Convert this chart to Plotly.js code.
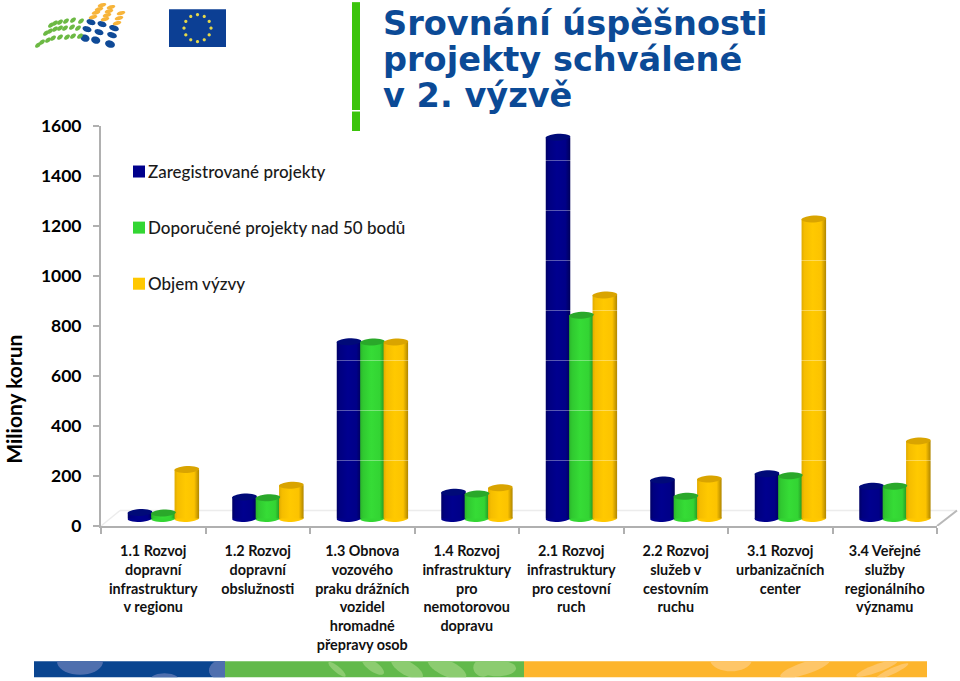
<!DOCTYPE html>
<html><head><meta charset="utf-8">
<script src="https://cdn.plot.ly/plotly-3.0.1.min.js"></script>
<style>html,body{margin:0;padding:0;background:#fff}#c{width:960px;height:681px}</style>
</head><body><div id="c"></div>
<script>
const categories = ["1.1 Rozvoj<br>dopravní<br>infrastruktury<br>v regionu","1.2 Rozvoj<br>dopravní<br>obslužnosti","1.3 Obnova<br>vozového<br>praku drážních<br>vozidel<br>hromadné<br>přepravy osob","1.4 Rozvoj<br>infrastruktury<br>pro<br>nemotorovou<br>dopravu","2.1 Rozvoj<br>infrastruktury<br>pro cestovní<br>ruch","2.2 Rozvoj<br>služeb v<br>cestovním<br>ruchu","3.1 Rozvoj<br>urbanizačních<br>center","3.4 Veřejné<br>služby<br>regionálního<br>významu"];
const zaregistrovane = [24,86,707,105,1525,154,179,129];
const doporucene = [22,83,706,98,813,89,171,129];
const objem = [196,133,706,123,894,158,1198,310];
const seriesNames = ["Zaregistrované projekty","Doporučené projekty nad 50 bodů","Objem výzvy"];
const yTicks = [0,200,400,600,800,1000,1200,1400,1600];

const W=960,H=681,L=101,R=937,T=126,B=526.5;
const FLOOR=30, BACK=62;
const BW=0.2347, OFF=[-0.244,-0.02,0.204];
const COL=["#00008c","#33d633","#ffc800"], CAP=["#000a78","#2aa82a","#d9a400"];
const px=x=>(x-L)/(R-L), py=y=>(B-y)/(B-T);
const shapes=[];
function pRect(x0,y0,x1,y1,c){shapes.push({type:'rect',xref:'paper',yref:'paper',x0:px(x0),x1:px(x1),y0:py(y0),y1:py(y1),fillcolor:c,line:{width:0},layer:'above'});}
function pEll(cx,cy,rx,ry,rot,c,box){let d='';const r=rot*Math.PI/180;for(let i=0;i<36;i++){const a=i/36*2*Math.PI;let x=cx+rx*Math.cos(a)*Math.cos(r)-ry*Math.sin(a)*Math.sin(r);let y=cy+rx*Math.cos(a)*Math.sin(r)+ry*Math.sin(a)*Math.cos(r);if(box){x=Math.min(box[1],Math.max(box[0],x));y=Math.min(box[3],Math.max(box[2],y));}d+=(i?'L':'M')+px(x).toFixed(5)+','+py(y).toFixed(5);}shapes.push({type:'path',xref:'paper',yref:'paper',path:d+'Z',fillcolor:c,line:{width:0},layer:'above'});}

// plot decorations
shapes.push({type:'line',xref:'paper',yref:'y',x0:px(120),x1:px(957),y0:BACK,y1:BACK,line:{color:'#ececec',width:1.5},layer:'below'});
shapes.push({type:'line',xref:'paper',yref:'y',x0:px(101),x1:px(120),y0:0,y1:BACK,line:{color:'#ececec',width:1.5},layer:'below'});
shapes.push({type:'line',xref:'paper',yref:'y',x0:1,x1:px(957),y0:0,y1:BACK,line:{color:'#b8b8b8',width:2},layer:'below'});

// cylinder ends, computed from the values
const YU=(B-T)/1600, XU=(R-L)/8;
function cyl(cx,cyVal){
  const rx=BW/2*XU, ry=3.4, r=-3*Math.PI/180; let d='';
  for(let i=0;i<28;i++){const a=i/28*2*Math.PI;
    const dx=rx*Math.cos(a)*Math.cos(r)-ry*Math.sin(a)*Math.sin(r), dy=rx*Math.cos(a)*Math.sin(r)+ry*Math.sin(a)*Math.cos(r);
    d+=(i?'L':'M')+(cx+dx/XU).toFixed(4)+','+(cyVal-dy/YU).toFixed(2);}
  return d+'Z';
}
[zaregistrovane,doporucene,objem].forEach((s,k)=>s.forEach((v,i)=>{
  const cx=i+OFF[k]+BW/2;
  shapes.push({type:'path',xref:'x',yref:'y',path:cyl(cx,FLOOR),fillcolor:COL[k],line:{width:0},layer:'between'});
  shapes.push({type:'path',xref:'x',yref:'y',path:cyl(cx,FLOOR+v),fillcolor:CAP[k],line:{width:0},layer:'above'});
}));
// wall grid lines showing faintly through the columns
yTicks.slice(0,-1).forEach(t=>{ if(t>0) shapes.push({type:'line',xref:'paper',yref:'y',x0:0,x1:1,y0:BACK+t,y1:BACK+t,line:{color:'rgba(255,255,255,0.35)',width:1},layer:'above'});});

// page furniture
pRect(352,2,360,110,'#3cc40c');pRect(352,111.5,360,131,'#3cc40c');
pRect(34,662,225,678,'#0a4590');pRect(225,662,524,678,'#62b94b');pRect(524,662,927,678,'#fdb52d');
const bandBlue=[34,225,662,678],bandGreen=[225,524,662,678],bandGold=[524,927,662,678];
pEll(80,662,23,13.5,0,'#4f6fae',bandBlue);pEll(164.5,680,14,6,0,'#4f6fae',bandBlue);pEll(228,671,19,12,0,'#4f6fae',bandBlue);
[[337,670,11,3,40],[373,667,13,5,35],[407,669,18,7,30],[447,669,21,8,25],[482,669,9,8,35],[497,669,19,8,0]].forEach(e=>pEll(e[0],e[1],e[2],e[3],e[4],'#8ccc70',bandGreen));
[[731,660,21,12,0],[805,669,26,6,-18],[877,669,22,4,-20],[892,672,18,3,-25]].forEach(e=>pEll(e[0],e[1],e[2],e[3],e[4],'#fec668',bandGold));
pRect(169,9,226,47,'#0c3f94');
for(let i=0;i<12;i++){const a=i/12*2*Math.PI;pEll(197.5+13.5*Math.cos(a),28+13.5*Math.sin(a),1.6,1.6,0,'#e6d84a');}
[[85,38],[95.7,40],[110,44],[87,29],[99,32],[112,35],[91,22],[102,24],[114,28]].forEach((p,i)=>pEll(p[0],p[1],i%3==2?5:4.6,i<3?3.6:2.8,18,'#0f4a97'));
[[93,17],[96,12.5],[99,9],[102,5],[105,19],[107,15],[109,11],[111,7],[117,23],[119,18],[121,13]].forEach(p=>pEll(p[0],p[1],4.4,1.9,-15,'#f7b43a'));
[[80,36],[73,36],[67,37],[60,37],[53,38],[48,40],[42,42],[38,45],[78,28],[72,27],[65,28],[60,28],[55,29],[50,31],[46,33],[81,21],[73,20],[66,21],[60,22],[55,23],[51,25]].forEach(p=>pEll(p[0],p[1],3.4,2,-40,'#6cb944'));

const traces=[zaregistrovane,doporucene,objem].map((s,k)=>({type:'bar',name:seriesNames[k],legendgroup:'g'+k,x:categories,y:s,base:FLOOR,width:BW,offset:OFF[k],marker:{color:COL[k],line:{width:0}},hoverinfo:'x+y'}));
const font={family:'Lato, sans-serif',size:17.5,color:'#000',weight:700};
const layout={
  width:W,height:H,margin:{l:L,r:W-R,t:T,b:H-B,pad:0},paper_bgcolor:'#fff',plot_bgcolor:'rgba(0,0,0,0)',
  barmode:'overlay',showlegend:true,
  legend:{x:px(119),y:py(154),xanchor:'left',yanchor:'top',bgcolor:'rgba(0,0,0,0)',font:{family:'Lato, sans-serif',size:17,color:'#1a1a1a',weight:500},tracegroupgap:31,groupclick:'toggleitem',traceorder:'grouped'},
  title:{text:"Srovnání úspěšnosti<br>projekty schválené<br>v 2. výzvě",x:383/W,xanchor:'left',xref:'container',yref:'container',y:1-34.5/H,yanchor:'alphabetic',font:{family:'DejaVu Sans, sans-serif',size:33.6,color:'#0b4a96',weight:700},automargin:false,pad:{}},
  xaxis:{type:'category',categoryorder:'array',categoryarray:categories,range:[-0.5,7.5],tickson:'boundaries',ticks:'outside',ticklen:6,tickcolor:'#b0b0b0',tickwidth:1.5,showline:true,linecolor:'#b0b0b0',linewidth:2,showgrid:false,zeroline:false,tickangle:0,tickfont:{family:'Lato, sans-serif',size:14.4,color:'#111',weight:700},ticklabelstandoff:11},
  yaxis:{range:[0,1600],tickvals:yTicks,ticktext:yTicks.map(String),ticks:'outside',ticklen:6,tickcolor:'#b0b0b0',tickwidth:1.5,showline:true,linecolor:'#b0b0b0',linewidth:2,showgrid:false,zeroline:false,tickfont:font,ticklabelstandoff:8},
  annotations:[{text:'Miliony korun',xref:'paper',yref:'paper',x:px(14),y:py(400),textangle:-90,showarrow:false,borderpad:0,font:{family:'Lato, sans-serif',size:21,color:'#000',weight:700},xanchor:'center',yanchor:'middle'}],
  shapes:shapes
};
Plotly.newPlot('c',traces,layout,{displayModeBar:false}).then(gd=>{
  const svg=gd.querySelector('svg.main-svg');
  const NS='http://www.w3.org/2000/svg';
  const defs=svg.querySelector('defs');
  const stops=[[0,'#000064','#2bb52b','#e0ab00'],[0.12,'#000080','#30c930','#f5bd00'],[0.45,'#00008f','#36dc36','#ffc900'],[0.8,'#000088','#33d433','#fcc300'],[1,'#00005a','#239023','#b08600']];
  [0,1,2].forEach(k=>{const g=document.createElementNS(NS,'linearGradient');g.id='cyl'+k;stops.forEach(s=>{const e=document.createElementNS(NS,'stop');e.setAttribute('offset',s[0]);e.setAttribute('stop-color',s[k+1]);g.appendChild(e);});defs.appendChild(g);});
  gd.querySelectorAll('.barlayer .trace.bars').forEach((tr,k)=>tr.querySelectorAll('.point path').forEach(p=>p.style.fill='url(#cyl'+k+')'));
  gd.querySelectorAll('.gtitle tspan.line').forEach((t,i)=>t.setAttribute('dy',(i*36.3)+'px'));
  gd.querySelectorAll('.legend .legendtext').forEach(t=>{t.setAttribute('x',+t.getAttribute('x')-11);});
});
</script></body></html>
